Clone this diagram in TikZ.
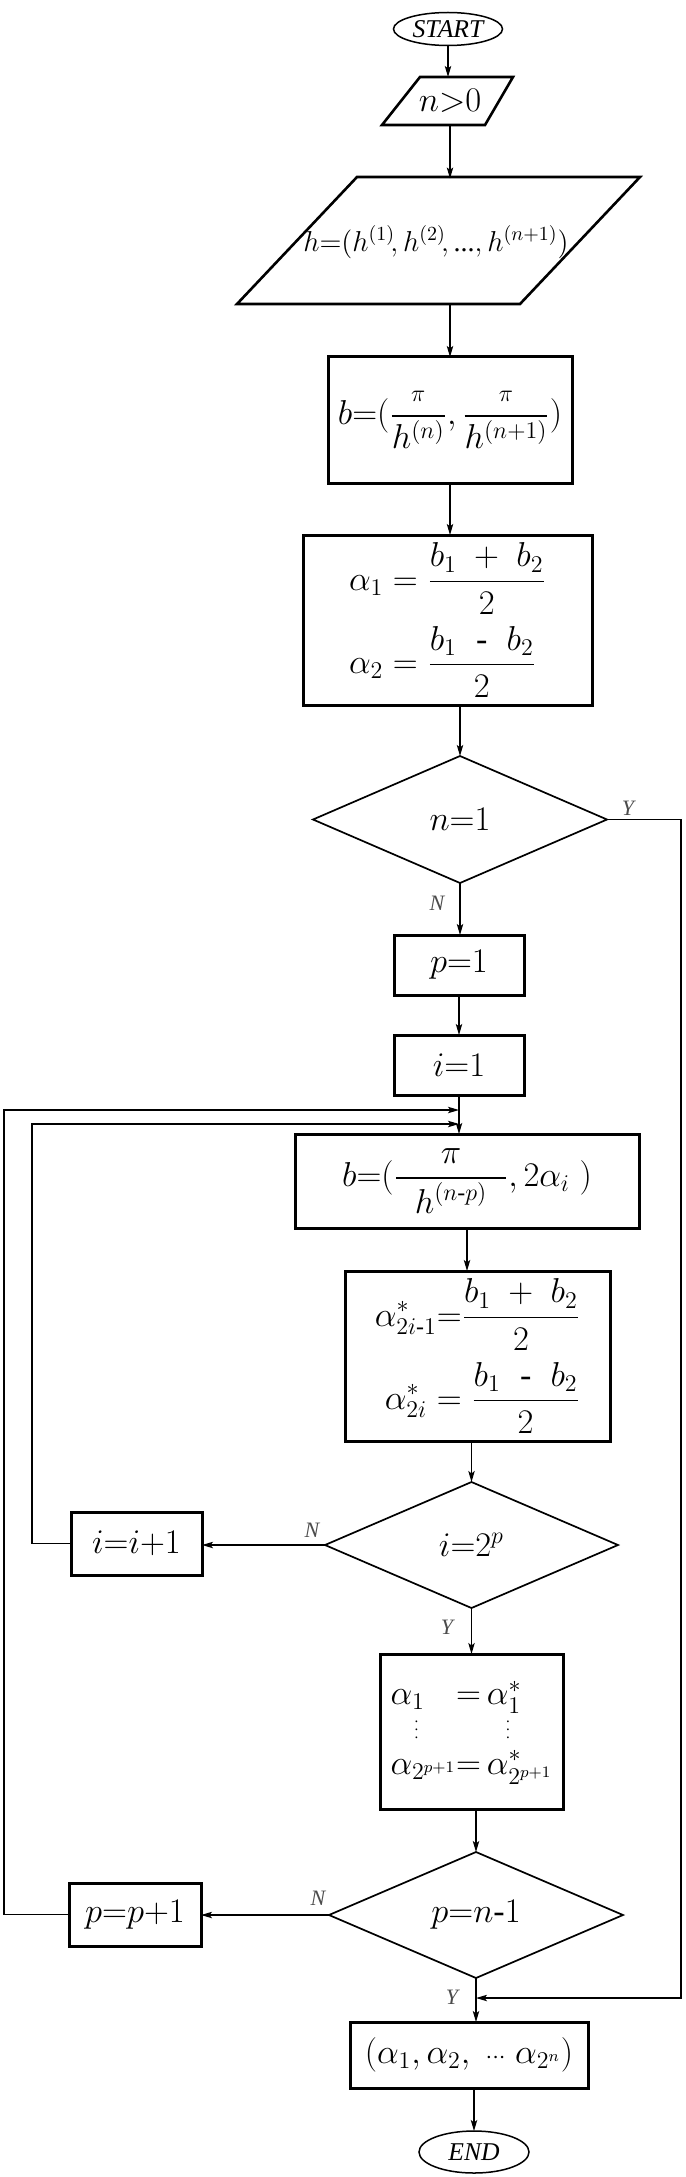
\documentclass[tikz,border=0pt]{standalone}
\usepackage{amsmath}
\usepackage{fontspec}
\setmainfont{Liberation Serif}
\usetikzlibrary{shapes.geometric,arrows.meta,calc}
\newcommand{\vdsm}{\text{\fontsize{7.5}{7.5}\selectfont$\vdots$}}
\newcommand{\hy}{\text{-}}
\begin{document}
\begin{tikzpicture}[x=0.5pt,y=-0.5pt,
  every node/.style={inner sep=0pt, outer sep=0pt},
  txt/.style={font=\fontsize{17}{20}\selectfont},
  proc/.style={txt, draw, line width=1.5pt, rectangle},
  dec/.style={txt, draw, line width=0.85pt, diamond},
  term/.style={draw, line width=0.75pt, ellipse, font=\fontsize{12.8}{15}\selectfont\itshape},
  para/.style={draw, line width=1.3pt, line join=miter},
  arr/.style={line width=0.6pt, -{Stealth[length=5.5pt,width=3.2pt,inset=1.2pt]}},
  lab/.style={font=\fontsize{11}{13}\selectfont\itshape, text=black!70},
]
\useasboundingbox (0,0) rectangle (685,2177);

% terminals
\node[term, minimum width=54.5pt, minimum height=16.5pt] (start) at (448,29) {START};
\node[term, minimum width=55pt, minimum height=21pt] (end) at (474,2152) {END};

% input parallelograms
\node[txt, minimum width=50pt, minimum height=24pt] (n0) at (450,101) {$n{>}0$};
\draw[para] (420,77) -- (513,77) -- (485,125) -- (382,125) -- cycle;
\node[txt, font=\fontsize{14}{17}\selectfont, minimum width=120pt, minimum height=63.5pt] (h) at (436,242)
  {$h{=}(h^{(1)}\!,h^{(2)}\!,\text{...},h^{(n+1)})$};
\draw[para] (357,177) -- (640,177) -- (520,304) -- (237,304) -- cycle;

% processes
\node[proc, minimum width=122pt, minimum height=63pt] (b) at (450,420)
  {$b{=}(\dfrac{\scriptstyle\pi}{h^{(n)}},\dfrac{\scriptstyle\pi}{h^{(n+1)}})$};
\node[proc, minimum width=144.5pt, minimum height=85pt] (a1) at (447.5,620)
  {$\begin{aligned}\alpha_1 &= \frac{b_1\;+\;b_2}{2}\\[2pt] \alpha_2 &= \frac{b_1\;\;\hy\;\;b_2}{2}\end{aligned}$};
\node[dec, minimum width=147pt, minimum height=63.5pt] (n1) at (460,819.5) {$n{=}1$};
\node[proc, minimum width=65pt, minimum height=30pt] (p1) at (459,965) {$p{=}1$};
\node[proc, minimum width=65pt, minimum height=30pt] (i1) at (459,1065) {$i{=}1$};
\node[proc, minimum width=172pt, minimum height=47pt] (b2) at (467,1181)
  {$b{=}(\dfrac{\pi}{\makebox[55pt]{$h^{(n\hy p)}$}}, 2\alpha_i\;)$};
\node[proc, minimum width=132.5pt, minimum height=85pt] (a2) at (477.5,1356)
  {$\begin{aligned}\alpha^{*}_{2i\hy1} &{=} \frac{b_1\;+\;b_2}{2}\\[2pt] \alpha^{*}_{2i}\; &{=}\; \frac{b_1\;\;\hy\;\;b_2}{2}\end{aligned}$};
\node[dec, minimum width=146.5pt, minimum height=63pt] (d2) at (471.5,1545) {$i{=}2^{p}$};
\node[proc, minimum width=65.5pt, minimum height=31.5pt] (inc) at (136.5,1543.5) {$i{=}i{+}1$};
\node[proc, minimum width=91.5pt, minimum height=77.5pt] (a3) at (471.5,1731.5)
  {$\begin{array}{@{}l@{}l@{}}
    \alpha_1 & {=}\,\alpha^{*}_1\\[-4pt]
    \hspace*{12pt}\vdsm & \hspace*{25pt}\vdsm\\[-2pt]
    \alpha_{2^{p+1}} & {=}\,\alpha^{*}_{2^{p+1}}
  \end{array}$};
\node[dec, minimum width=147pt, minimum height=63pt] (d3) at (476,1915) {$p{=}n\hy1$};
\node[proc, minimum width=66pt, minimum height=31.5pt] (pinc) at (135,1914.5) {$p{=}p{+}1$};
\node[proc, minimum width=119pt, minimum height=33pt] (fin) at (469,2055)
  {$(\alpha_1,\alpha_2,\;{\scriptstyle\cdots}\;\alpha_{2^n})$};

% main flow
\draw[arr] (start.south) -- (start.south |- n0.north);
\draw[arr] (n0.south) -- (n0.south |- h.north);
\draw[arr] (h.south -| b.north) -- (b.north);
\draw[arr] (b.south) -- (b.south |- a1.north);
\draw[arr] (a1.south -| n1.north) -- (n1.north);
\draw[arr] (n1.south) -- (n1.south |- p1.north);
\draw[arr] (p1.south) -- (i1.north);
\draw[arr] (i1.south) -- (i1.south |- b2.north);
\draw[arr] (b2.south) -- (b2.south |- a2.north);
\draw[arr] (a2.south -| d2.north) -- (d2.north);
\draw[arr] (d2.south) -- (d2.south |- a3.north);
\draw[arr] (a3.south -| d3.north) -- (d3.north);
\draw[arr] (d3.south) -- (d3.south |- fin.north);
\draw[arr] (fin.south -| end.north) -- (end.north);

% branches
\coordinate (yret) at (681,1998);
\draw[arr] (n1.east) -| (yret) -- (yret -| d3.south);
\draw[arr] (d2.west) -- (d2.west -| inc.east);
\draw[arr] (d3.west) -- (d3.west -| pinc.east);
\coordinate (il) at (32,1124);
\coordinate (ol) at (4,1110);
\draw[arr] (inc.west) -| (il) -- (il -| i1.south);
\draw[arr] (pinc.west) -| (ol) -- (ol -| i1.south);

% labels
\node[lab] (ly1) at (628,808) {Y};
\node[lab] (ln1) at (437,903) {N};
\node[lab] (ln2) at (312,1530) {N};
\node[lab] (ly2) at (447,1627) {Y};
\node[lab] (ln3) at (318,1898) {N};
\node[lab] (ly3) at (452,1997) {Y};
\end{tikzpicture}
\end{document}
